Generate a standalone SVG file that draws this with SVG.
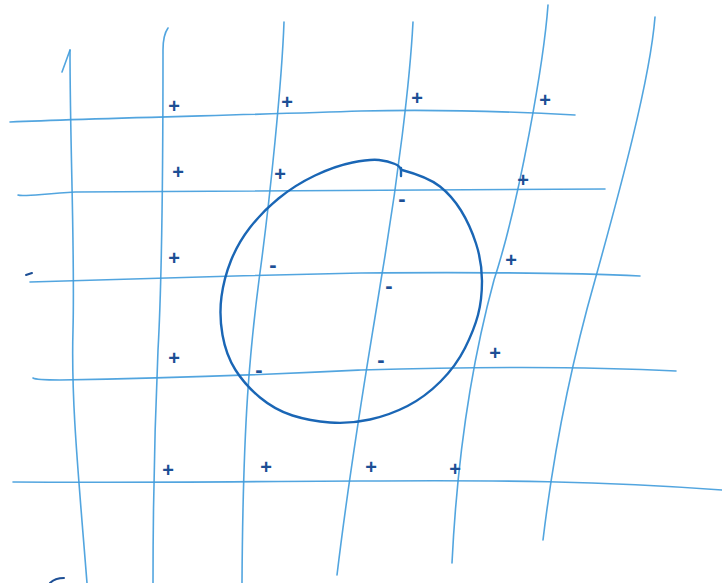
<svg xmlns="http://www.w3.org/2000/svg" width="722" height="583" viewBox="0 0 722 583">
<style>
.grid{fill:none;stroke:#3f9bdc;stroke-width:1.6;stroke-linecap:round;opacity:0.9}
.ink{fill:none;stroke:#1a66b5;stroke-width:2.4;stroke-linecap:round;stroke-linejoin:round}
.pen{fill:none;stroke:#1d4f95;stroke-width:2;stroke-linecap:round}
.q{font-family:"Liberation Sans",Arial,sans-serif;font-weight:bold;fill:#1d4f95;text-anchor:middle;dominant-baseline:central}
.p{font-size:20px}
.m{font-size:22px}
</style>
<rect width="722" height="583" fill="#ffffff"/>
<g id="vertical-lines">
<path class="grid" d="M62,72 L70,50"/>
<path class="grid" d="M70,50 C70,150 75,250 73,330 C71,400 78,470 87,583"/>
<path class="grid" d="M168,28 Q163,35 163,50 C163,200 162,280 158,350 C155,420 153,500 153,583"/>
<path class="grid" d="M284,22 C282,80 270,200 259,280 C250,350 243,420 242,583"/>
<path class="grid" d="M413,22 C410,80 398,180 381,280 C370,350 352,450 337,575"/>
<path class="grid" d="M548,5 C544,60 520,200 494,280 C475,350 458,440 452,563"/>
<path class="grid" d="M655,17 C650,80 620,190 595,280 C575,350 555,440 543,540"/>
</g>
<g id="horizontal-lines">
<path class="grid" d="M10,122 C100,118 250,115 361,111 C450,109 520,112 575,115"/>
<path class="grid" d="M18,195 C22,197 40,194 75,192 C200,190 400,189 605,189"/>
<path class="grid" d="M30,282 C100,280 250,275 361,273 C500,272 600,274 640,276"/>
<path class="grid" d="M33,378 Q36,380 60,380 C200,378 300,373 361,370 C500,366 600,367 676,371"/>
<path class="grid" d="M13,482 C150,483 300,481 361,481 C500,480 600,481 722,490"/>
</g>
<g id="strokes">
<path class="pen" d="M26,275 L32,273"/>
<path class="pen" d="M50,583 Q55,578 64,578"/>
</g>
<g id="circle">
<path class="ink" d="M402,170 Q428,177 440,186.5 Q452,196 461,210.5 Q470,225 476,243.5 Q482,262 482,281 Q482,300 478,315 Q474,330 465,348 Q456,366 440.5,381.5 Q425,397 407.5,406 Q390,415 370,419.5 Q350,424 330,422.5 Q310,421 292.5,415.5 Q275,410 260,397.5 Q245,385 235.5,370 Q226,355 222.5,335 Q219,315 221.5,296.5 Q224,278 231,260.5 Q238,243 250,227.5 Q262,212 278.5,198.5 Q295,185 315,175.5 Q335,166 352.5,162.5 Q370,159 379,160 Q388,161 395,164 Q400,166 401,170"/>
<path class="ink" d="M401,168 L401,176"/>
</g>
<g id="charges">
<text class="q p" x="174" y="106">+</text>
<text class="q p" x="287" y="102">+</text>
<text class="q p" x="417" y="98">+</text>
<text class="q p" x="545" y="100">+</text>
<text class="q p" x="178" y="172">+</text>
<text class="q p" x="280" y="174">+</text>
<text class="q p" x="523" y="180">+</text>
<text class="q p" x="174" y="258">+</text>
<text class="q p" x="511" y="260">+</text>
<text class="q p" x="174" y="358">+</text>
<text class="q p" x="495" y="353">+</text>
<text class="q p" x="168" y="470">+</text>
<text class="q p" x="266" y="467">+</text>
<text class="q p" x="371" y="467">+</text>
<text class="q p" x="455" y="469">+</text>
<text class="q m" x="402" y="198">-</text>
<text class="q m" x="273" y="264">-</text>
<text class="q m" x="389" y="285">-</text>
<text class="q m" x="381" y="359">-</text>
<text class="q m" x="259" y="369">-</text>
</g>
</svg>
